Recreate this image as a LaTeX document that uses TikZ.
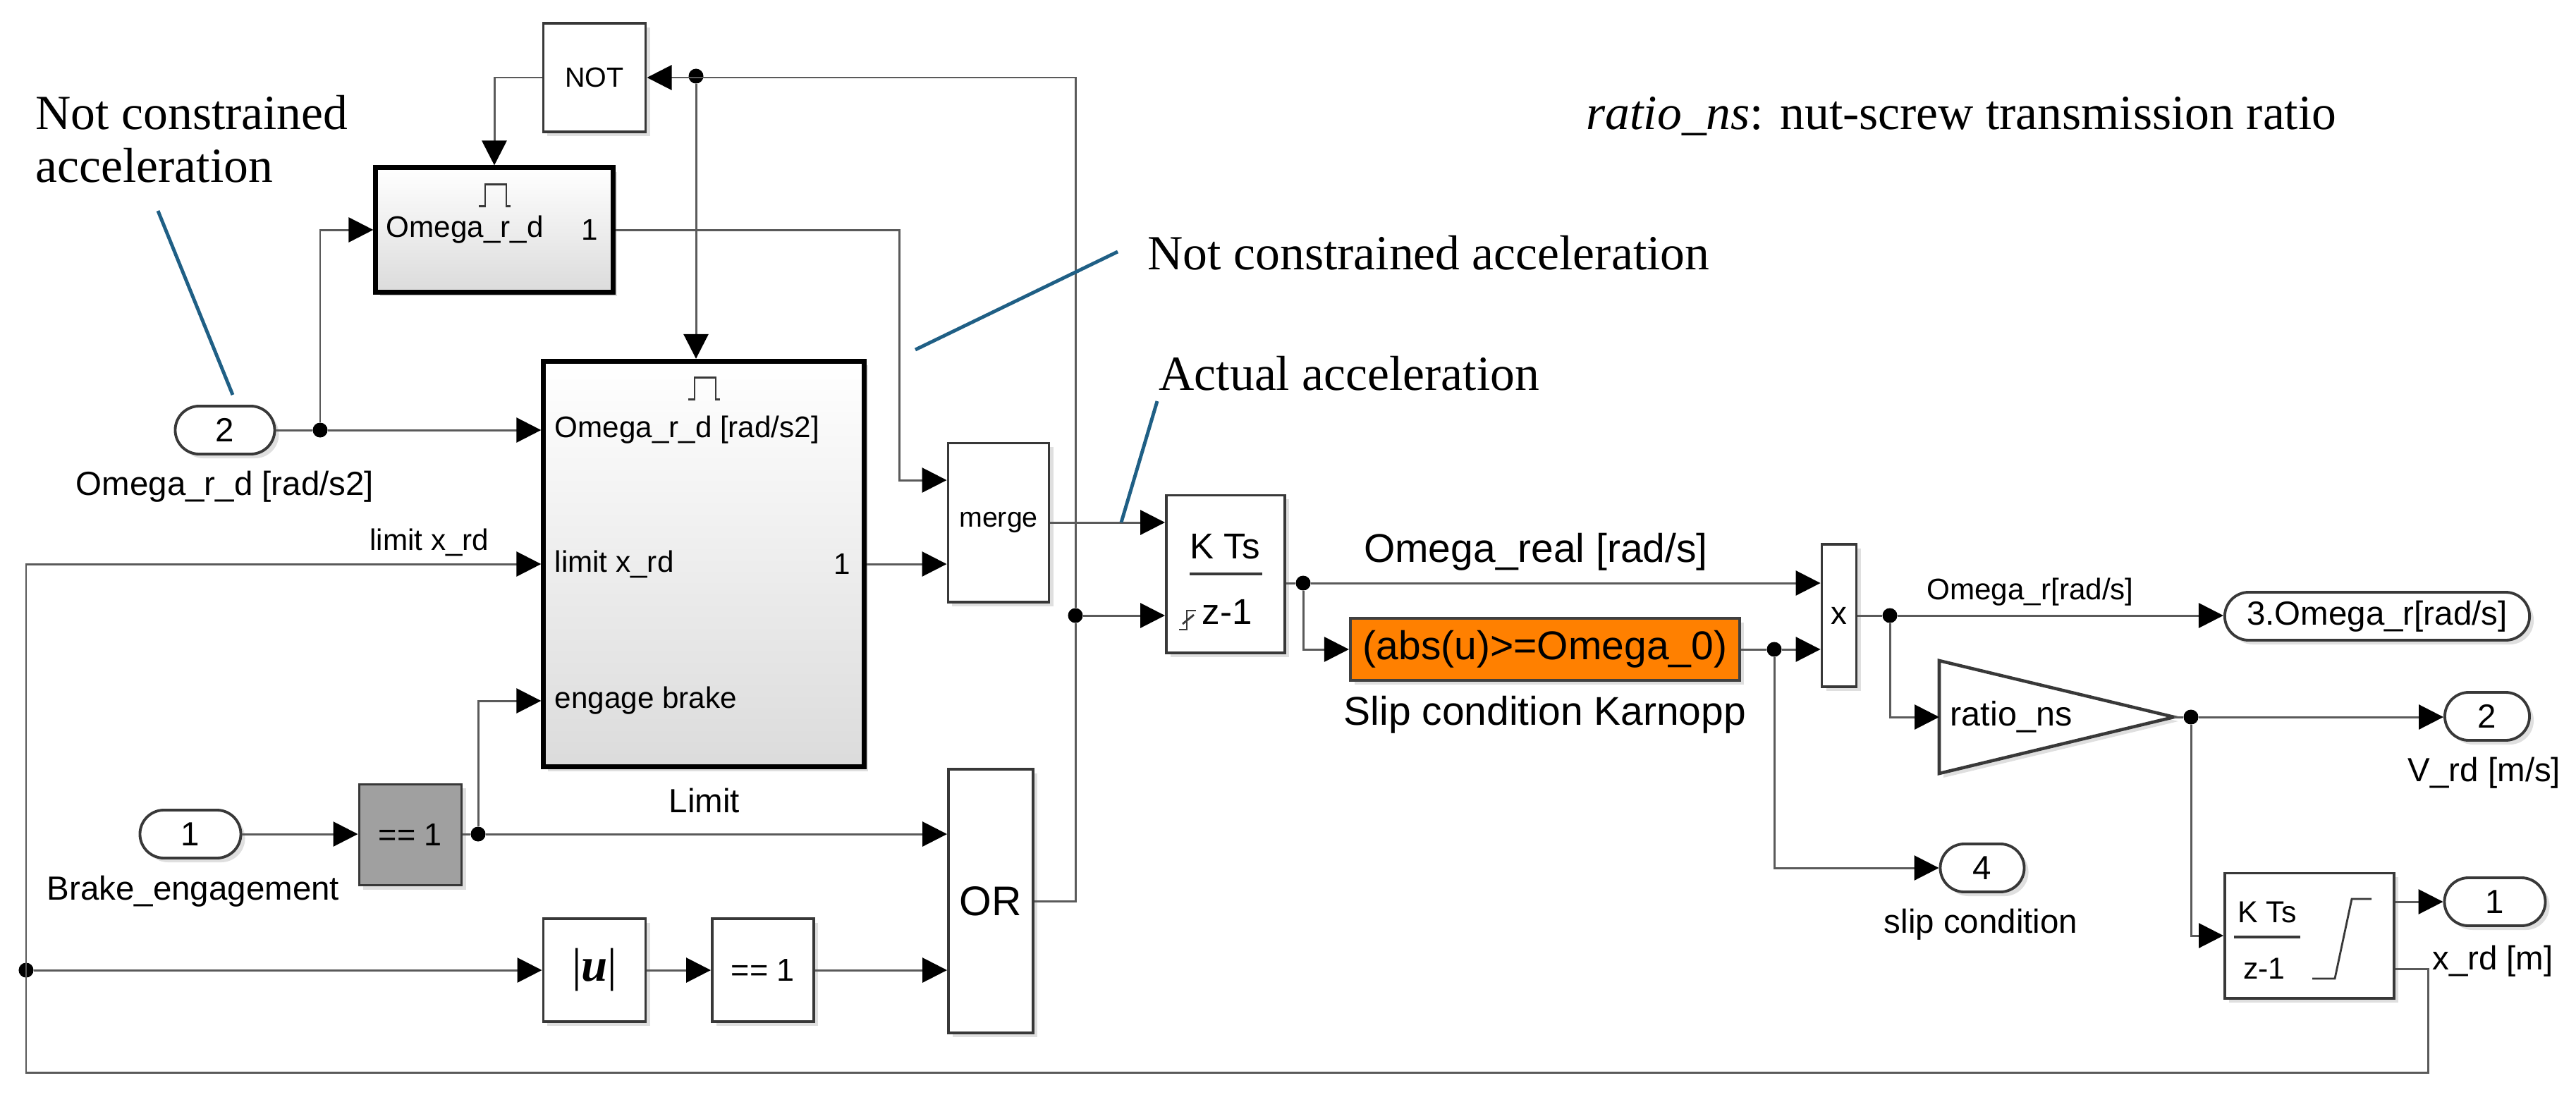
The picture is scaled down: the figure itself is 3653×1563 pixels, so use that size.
\documentclass[tikz,border=0pt]{standalone}
\usepackage{fontspec}
\setmainfont{Liberation Sans}
\newfontfamily\notefont{Liberation Serif}
\usetikzlibrary{arrows.meta,shapes.misc,calc,shadows}
\definecolor{sigline}{HTML}{5A5A5A}
\definecolor{blkline}{HTML}{383838}
\definecolor{noteblue}{HTML}{1F5F85}
\definecolor{slipfill}{HTML}{FF8000}
\definecolor{eqfill}{HTML}{A0A0A0}
\begin{document}
\begin{tikzpicture}[x=0.01cm, y=-0.01cm,
    sig/.style={draw=sigline, line width=0.85pt},
    arr/.style={sig, -{Triangle[length=0.35cm, width=0.35cm, color=black]}},
    blk/.style={draw=blkline, line width=1.1pt, fill=white, inner sep=0pt,
                drop shadow={shadow xshift=0.06cm, shadow yshift=-0.06cm, opacity=0.25}},
    sub/.style={blk, draw=black, line width=2pt, top color=white, bottom color=black!14},
    port/.style={blk, rounded rectangle, minimum height=0.68cm, font=\fontsize{13.5}{16}\selectfont},
    dot/.style={circle, fill=black, inner sep=0pt, minimum size=0.21cm},
    small/.style={inner sep=0pt, font=\fontsize{12}{14}\selectfont},
    mid/.style={inner sep=0pt, font=\fontsize{13.5}{16}\selectfont},
    big/.style={inner sep=0pt, font=\fontsize{16.2}{19}\selectfont},
    note/.style={inner sep=0pt, anchor=base west, font=\notefont\fontsize{19.8}{22}\selectfont},
    pointer/.style={draw=noteblue, line width=1.4pt},
    icon/.style={draw=blkline, line width=0.8pt}]
  \useasboundingbox (0,0) rectangle (3653,1563);

  % blocks
  \node[blk, minimum width=1.45cm, minimum height=1.54cm, font=\fontsize{11.2}{13}\selectfont] (notb) at (843,110) {NOT};
  \node[sub, minimum width=3.36cm, minimum height=1.76cm] (omd) at (701,326) {};
  \node[sub, minimum width=4.54cm, minimum height=5.75cm] (limit) at (998,800) {};
  \node[blk, minimum width=1.43cm, minimum height=2.25cm, font=\fontsize{11.2}{13}\selectfont] (merge) at (1416,741) {merge};
  \node[blk, minimum width=1.68cm, minimum height=2.23cm] (kts) at (1738,814) {};
  \node[blk, draw=black!75, fill=slipfill, minimum width=5.52cm, minimum height=0.88cm, font=\fontsize{16.2}{19}\selectfont] (slip) at (2191,921) {(abs(u)>=Omega\_0)};
  \node[blk, minimum width=0.49cm, minimum height=2.02cm, font=\fontsize{13}{15}\selectfont] (prod) at (2608,873) {x};
  \node[blk, minimum width=2.40cm, minimum height=1.77cm] (intg) at (3275,1327) {};
  \node[blk, fill=eqfill, minimum width=1.45cm, minimum height=1.43cm, font=\fontsize{12.8}{15}\selectfont] (eq1) at (582,1184) {== 1};
  \node[blk, minimum width=1.45cm, minimum height=1.46cm, font=\notefont\fontsize{19}{22}\selectfont] (absu) at (843,1376) {|\textit{\textbf{u}}|};
  \node[blk, minimum width=1.44cm, minimum height=1.46cm, font=\fontsize{12.8}{15}\selectfont] (eq2) at (1082,1376) {== 1};
  \node[blk, minimum width=1.20cm, minimum height=3.73cm, font=\fontsize{16.7}{19}\selectfont] (orb) at (1405,1278) {OR};
  \coordinate (gainin) at (2750,1017);
  \coordinate (gaintip) at (3083,1017);
  \filldraw[blk, line width=1.3pt] (2750,937) -- (gaintip) -- (2750,1097) -- cycle;
  \node[inner sep=0pt, font=\fontsize{13.8}{16}\selectfont] (gain) at (2852,1017) {ratio\_ns};

  % ports
  \node[port, minimum width=1.41cm] (in2) at (319,610) {2};
  \node[port, minimum width=1.43cm] (in1) at (270,1183) {1};
  \node[port, minimum width=1.19cm] (out4) at (2811,1231) {4};
  \node[port, minimum width=4.32cm] (out3) at (3371,874) {3.Omega\_r[rad/s]};
  \node[port, minimum width=1.20cm] (out2) at (3527,1016) {2};
  \node[port, minimum width=1.43cm] (out1) at (3538,1279) {1};

  % block contents
  \foreach \b in {omd, limit}
    \draw[icon] ($(\b.north)+(-22,58)$) -- ++(9,0) -- ++(0,-31) -- ++(30,0) -- ++(0,31) -- ++(6,0);
  \node[small, anchor=west] (omd1) at (547,326) {Omega\_r\_d};
  \node[small, anchor=east] (omd2) at (849,326) {1};
  \node[small, anchor=west] (lim1) at (786,610) {Omega\_r\_d [rad/s2]};
  \node[small, anchor=west] (lim2) at (786,800) {limit x\_rd};
  \node[small, anchor=west] (lim3) at (786,994) {engage brake};
  \node[small, anchor=east] (lim4) at (1207,800) {1};
  \node[inner sep=0pt, font=\fontsize{14.5}{17}\selectfont] (kts1) at (1737,775) {K Ts};
  \draw[icon, line width=1.3pt] (1687,814) -- (1790,814);
  \node[inner sep=0pt, font=\fontsize{14.5}{17}\selectfont] (kts2) at (1740,868) {z-1};
  \draw[icon] (1672,893) -- (1683,893) -- (1683,866) -- (1696,866);
  \draw[icon] (1677,885) -- (1693,872);
  \node[inner sep=0pt, font=\fontsize{12.2}{14}\selectfont] (intg1) at (3215,1294) {K Ts};
  \draw[icon, line width=1.3pt] (3168,1329) -- (3262,1329);
  \node[inner sep=0pt, font=\fontsize{12.2}{14}\selectfont] (intg2) at (3211,1374) {z-1};
  \draw[icon] (3279,1388) -- (3311,1388) -- (3335,1275) -- (3363,1275);

  % block labels
  \node[mid] (in2lbl) at (319,690) {Omega\_r\_d [rad/s2]};
  \node[mid] (in1lbl) at (274,1264) {Brake\_engagement};
  \node[mid] (limlbl) at (999,1135) {Limit};
  \node[big] (sliplbl) at (2191,1014) {Slip condition Karnopp};
  \node[mid] (out4lbl) at (2809,1311) {slip condition};
  \node[mid] (out2lbl) at (3523,1096) {V\_rd [m/s]};
  \node[mid] (out1lbl) at (3535,1363) {x\_rd [m]};

  % junctions
  \node[dot] (j1) at (454,610) {};
  \node[dot] (jtop) at (987,108) {};
  \node[dot] (jR) at (1525,873) {};
  \node[dot] (jK) at (1848,827) {};
  \node[dot] (jS) at (2516,921) {};
  \node[dot] (jP) at (2680,873) {};
  \node[dot] (jG) at (3107,1017) {};
  \node[dot] (jE) at (678,1183) {};
  \node[dot] (jL) at (37,1376) {};
  \coordinate (bend1) at (1275,681);
  \coordinate (fbr) at (3443,1521);
  \coordinate (fbl) at (37,1521);

  % signals
  \draw[arr] (in2.east) -- (j1) -- (j1 -| limit.west);
  \draw[arr] (j1) |- (omd.west);
  \draw[arr] (notb.west) -| (omd.north);
  \draw[sig] (orb.east) -| (jR);
  \draw[arr] (jR) |- (notb.east);
  \draw[arr] (jtop) -- (jtop |- limit.north);
  \draw[arr] (jR) -- (jR -| kts.west);
  \draw[arr] (omd.east) -| (bend1) -- (bend1 -| merge.west);
  \draw[arr] (limit.east) -- (limit.east -| merge.west);
  \draw[arr] (merge.east) -- (merge.east -| kts.west);
  \draw[sig] (jK -| kts.east) -- (jK);
  \draw[arr] (jK) -- (jK -| prod.west);
  \node[big] (omreal) at (2178,783) {Omega\_real [rad/s]};
  \draw[arr] (jK) |- (slip.west);
  \draw[sig] (slip.east) -- (jS);
  \draw[arr] (jS) -- (jS -| prod.west);
  \draw[arr] (jS) |- (out4.west);
  \draw[sig] (prod.east) -- (jP);
  \draw[arr] (jP) -- (jP -| out3.west);
  \node[small] (omr) at (2879,840) {Omega\_r[rad/s]};
  \draw[arr] (jP) |- (gainin);
  \draw[sig] (gaintip) -- (jG);
  \draw[arr] (jG) -- (jG -| out2.west);
  \draw[arr] (jG) |- (intg.west);
  \draw[arr] (intg.east |- out1) -- (out1.west);
  \draw[arr] ($(intg.south east)+(0,-43)$) -| (fbr) -- (fbl) |- (limit.west);
  \node[small] (limx) at (609,769) {limit x\_rd};
  \draw[arr] (jL) -- (jL -| absu.west);
  \draw[arr] (absu.east) -- (eq2.west);
  \draw[arr] (eq2.east) -- (eq2.east -| orb.west);
  \draw[arr] (in1.east) -- (in1.east -| eq1.west);
  \draw[sig] (eq1.east |- jE) -- (jE);
  \draw[arr] (jE) -- (jE -| orb.west);
  \draw[arr] (jE) |- (lim3.west -| limit.west);

  % notes
  \node[note] (noteA1) at (50,183) {Not constrained};
  \node[note] (noteA2) at (50,258) {acceleration};
  \draw[pointer] (224,299) -- (330,560);
  \node[note] (noteB) at (1627,382) {Not constrained acceleration};
  \draw[pointer] (1585,357) -- (1298,496);
  \node[note] (noteC) at (1643,553) {Actual acceleration};
  \draw[pointer] (1641,569) -- (1590,741);
  \node[note] (noteD) at (2249,183) {\textit{ratio\_ns}: nut-screw transmission ratio};
\end{tikzpicture}
\end{document}
